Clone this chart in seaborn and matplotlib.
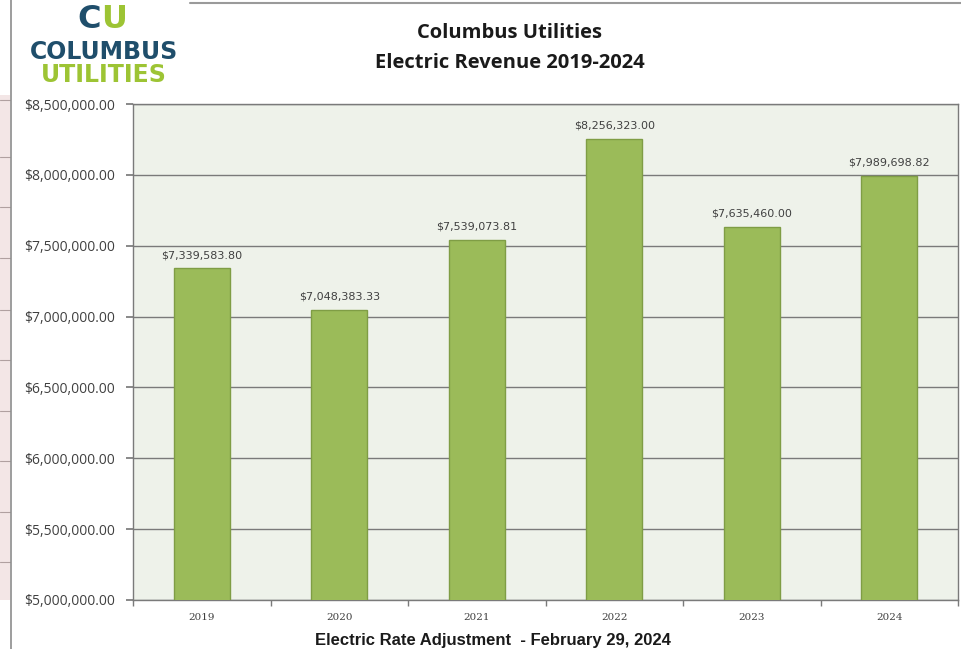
import matplotlib
matplotlib.use("Agg")
import matplotlib.pyplot as plt
import seaborn as sns
import pandas as pd
from matplotlib.ticker import FuncFormatter, FixedLocator
from matplotlib.patches import Rectangle
from matplotlib.lines import Line2D

years = ["2019", "2020", "2021", "2022", "2023", "2024"]
revenue = [7339583.80, 7048383.33, 7539073.81, 8256323.00, 7635460.00, 7989698.82]
bar_labels = ["$7,339,583.80", "$7,048,383.33", "$7,539,073.81",
              "$8,256,323.00", "$7,635,460.00", "$7,989,698.82"]
y_ticks = [5000000, 5500000, 6000000, 6500000, 7000000, 7500000, 8000000, 8500000]

df = pd.DataFrame({"Year": years, "Revenue": revenue})

sns.set_theme(style="white")
plt.rcParams['font.family'] = ['Open Sans', 'DejaVu Sans']

fig = plt.figure(figsize=(9.61, 6.49), dpi=100)
fig.patch.set_facecolor("white")
ax = fig.add_axes([133/961, 1-600/649, (958-133)/961, (600-104)/649])
ax.set_facecolor("#EEF2EA")

sns.barplot(data=df, x="Year", y="Revenue", color="#9BBB59", width=0.41,
            edgecolor="#7F9D45", linewidth=1.0, saturation=1, ax=ax, zorder=3)

ax.set_ylim(5000000, 8500000)
ax.set_xlim(-0.5, 5.5)
ax.yaxis.set_major_locator(FixedLocator(y_ticks))
ax.yaxis.set_major_formatter(FuncFormatter(lambda v, p: f"${v:,.2f}"))
ax.grid(axis="y", color="#7A7A7A", linewidth=1.0, zorder=1)
ax.set_axisbelow(True)
for s in ax.spines.values():
    s.set_color("#7A7A7A")
    s.set_linewidth(1.0)
ax.set_xlabel("")
ax.set_ylabel("")
ax.tick_params(axis="y", labelsize=10, labelcolor="#404040", length=5,
               color="#7A7A7A", direction="out", left=True, pad=8)
ax.tick_params(axis="x", labelsize=7.5, labelcolor="#404040", length=0, pad=9)
for lab in ax.get_xticklabels():
    lab.set_fontfamily("DejaVu Serif")
# small category boundary ticks
ax.set_xticks([i + 0.5 for i in range(-1, 6)], minor=True)
ax.tick_params(axis="x", which="minor", length=4, color="#7A7A7A", direction="out", bottom=True)

ax.bar_label(ax.containers[0], labels=bar_labels, padding=6, fontsize=8,
             color="#404040", fontfamily="DejaVu Sans")

# Titles
fig.text(510/961, 1-33/649, "Columbus Utilities", ha="center", va="center",
         fontsize=14.5, fontweight="bold", color="#1A1A1A")
fig.text(510/961, 1-63/649, "Electric Revenue 2019-2024", ha="center", va="center",
         fontsize=14.5, fontweight="bold", color="#1A1A1A")

# Logo
fig.text(100.5/961, 1-20/649, "C", ha="right", va="center", fontsize=23,
         fontweight="heavy", color="#1F4E6B", family="DejaVu Sans")
fig.text(101.5/961, 1-20/649, "U", ha="left", va="center", fontsize=23,
         fontweight="heavy", color="#9DC434", family="DejaVu Sans")
fig.text(104/961, 1-52/649, "COLUMBUS", ha="center", va="center", fontsize=17,
         fontweight="heavy", color="#1F4E6B", family="DejaVu Sans")
fig.text(104/961, 1-75/649, "UTILITIES", ha="center", va="center", fontsize=17,
         fontweight="heavy", color="#9DC434", family="DejaVu Sans")

# Bottom caption
fig.text(493/961, 1-641/649, "Electric Rate Adjustment  - February 29, 2024",
         ha="center", va="center", fontsize=12, fontweight="bold",
         color="#1A1A1A", family="Liberation Sans")

# Frame / spreadsheet surroundings
fig.add_artist(Rectangle((0, 1-600/649), 10/961, (600-95)/649,
                         transform=fig.transFigure, facecolor="#F3E6E6", edgecolor="none"))
for yy in [100, 157, 207, 258, 310, 360, 411, 461, 512, 562]:
    fig.add_artist(Line2D([0, 10/961], [1-yy/649, 1-yy/649], transform=fig.transFigure,
                          color="#B0A0A0", linewidth=0.8))
fig.add_artist(Line2D([11/961, 11/961], [0, 1], transform=fig.transFigure,
                      color="#8C8C8C", linewidth=1.2))
fig.add_artist(Line2D([190/961, 1], [1-3/649, 1-3/649], transform=fig.transFigure,
                      color="#9A9A9A", linewidth=1.5))

fig.savefig("out.png", dpi=100)
